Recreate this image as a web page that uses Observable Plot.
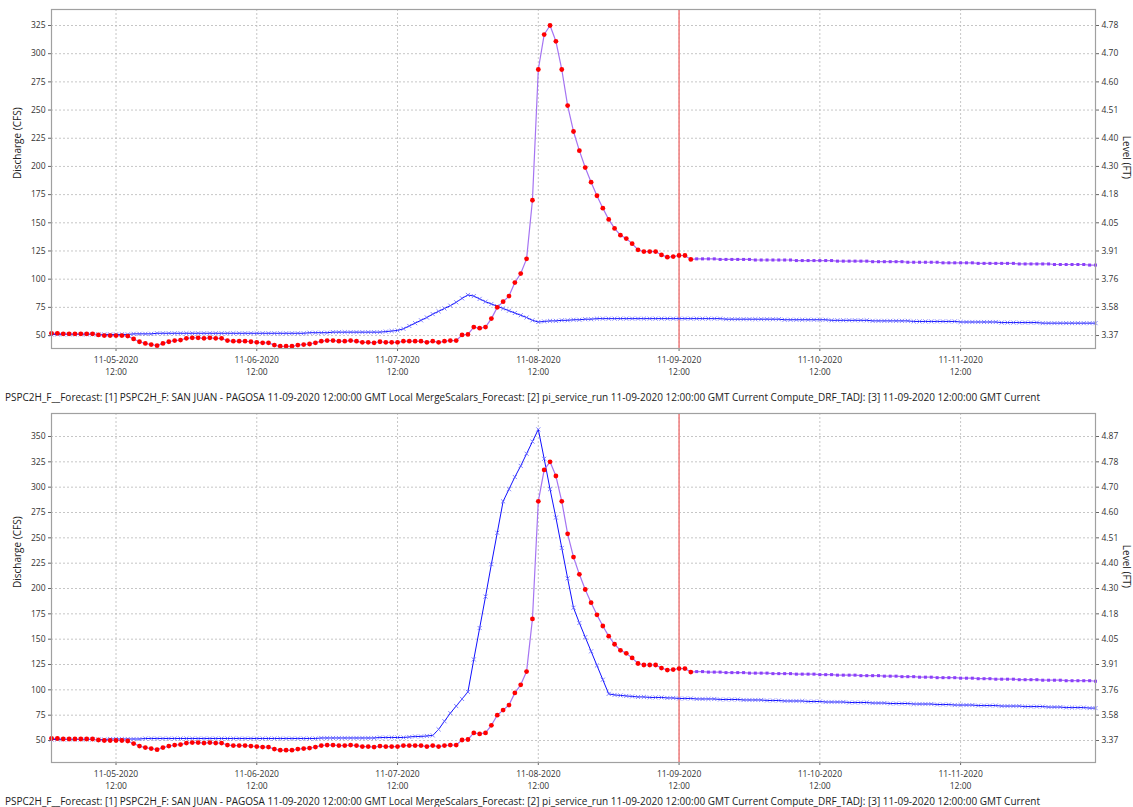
<!DOCTYPE html>
<html>
<head>
<meta charset="utf-8">
<script src="https://cdn.jsdelivr.net/npm/d3@7"></script>
<script src="https://cdn.jsdelivr.net/npm/@observablehq/plot@0.6"></script>
<style>
  html, body { margin: 0; padding: 0; background: #fff; }
  #page { position: relative; width: 1133px; height: 807px; overflow: hidden; background: #fff; }
  .panel { position: absolute; left: 0; }
  .footer { position: absolute; left: 5px; font-family: "Open Sans", sans-serif; font-size: 10px; line-height: 12px; color: #222; white-space: nowrap; }
  #title { position: absolute; left: 0; top: 0; }
</style>
</head>
<body>
<div id="page">
  <svg id="title" width="1133" height="20"></svg>
  <div class="panel" id="p1" style="top:0px"></div>
  <div class="footer" id="f1" style="top:391px"></div>
  <div class="panel" id="p2" style="top:404px"></div>
  <div class="footer" id="f2" style="top:795px"></div>
</div>
<script>
// ---------------- data ----------------
const titleText = "San Juan River at Pagosa Springs, Colorado (PSPC2H)";
const footerText = "PSPC2H_F__Forecast: [1] PSPC2H_F: SAN JUAN - PAGOSA 11-09-2020 12:00:00 GMT Local MergeScalars_Forecast: [2] pi_service_run 11-09-2020 12:00:00 GMT Current Compute_DRF_TADJ: [3] 11-09-2020 12:00:00 GMT Current";
const seriesStart = "2020-11-05T01:00:00Z";   // first hourly value
const seriesEnd = "2020-11-12T11:00:00Z";
const forecastTime = "2020-11-09T12:00:00Z";
const xTickTimes = ["2020-11-05T12:00:00Z","2020-11-06T12:00:00Z","2020-11-07T12:00:00Z","2020-11-08T12:00:00Z","2020-11-09T12:00:00Z","2020-11-10T12:00:00Z","2020-11-11T12:00:00Z"];

// observed discharge (CFS), hourly from 11-05 01:00 to 11-09 14:00
const observed = [
  52,52,51.5,51.5,51.5,51.5,51.5,51.5,
  50.5,50,50,50,50,49.5,
  47,44.5,43,42,41,43,44.5,45.5,
  46,47.5,48,48,47.5,48,47.5,47.5,
  45.5,45,45,45,44.5,44,43.5,43.5,
  41.5,40.5,40.5,40.5,41.5,42,42.5,43.5,
  45,45.5,45.5,45,45,45.5,45,44,
  44,43.5,44.5,44,44,44,45,45,
  45,45,44,45,44,45,45.5,45.5,
  50.5,51,57.5,56.5,57.5,65,75,80,
  85,97,105,118,170,286,317,325,
  311,286,254,231,214,199,186,174,
  163,153,145,139,136,131.5,126,124.5,
  124.5,124.5,121.5,119.5,120,121,121,117.5
];
// merged forecast (CFS), hourly from 11-09 15:00 to 11-12 11:00
const forecastTop = [
  118,118,118,118,117.5,117.5,117.5,117.5,117.5,117.5,
  117,117,117,117,117,117,117,116.5,116.5,116.5,
  116.5,116.5,116.5,116.5,116,116,116,116,116,116,
  115.5,115.5,115.5,115.5,115.5,115.5,115,115,115,115,
  115,115,114.5,114.5,114.5,114.5,114.5,114.5,114,114,
  114,114,114,114,114,113.5,113.5,113.5,113.5,113.5,
  113.5,113,113,113,113,113,113,112.5,112.5
];
const forecastBottom = [
  118,118,117.5,117.5,117.5,117,117,117,117,116.5,
  116.5,116.5,116.5,116,116,116,116,115.5,115.5,115.5,
  115.5,115,115,115,114.5,114.5,114.5,114.5,114,114,
  114,114,113.5,113.5,113.5,113,113,113,112.5,112.5,
  112.5,112,112,112,112,111.5,111.5,111.5,111,111,
  111,110.5,110.5,110.5,110.5,110,110,110,110,109.5,
  109.5,109.5,109.5,109,109,109,109,109,108.5
];
// simulated discharge (CFS), hourly from 11-05 01:00 to 11-12 11:00
const simTop = [
  51,51,51,51,51,51,51,51,51,51,
  51,51,51,51,51.5,51.5,51.5,51.5,52,52,
  52,52,52,52,52,52,52,52,52,52,
  52,52,52,52,52,52,52,52,52,52,
  52,52,52,52,52.5,52.5,52.5,52.5,53,53,
  53,53,53,53,53,53,53,53.5,54,54.5,
  56,58.5,61,63.5,66,69,71.5,74,76.5,79.5,
  83,86,85,82.5,80,78,76,74,72,70,
  68,66,63.5,62,62.5,63,63,63.5,63.5,64,
  64,64.5,64.5,65,65,65,65,65,65,65,
  65,65,65,65,65,65,65,65,65,65,
  65,65,65,65,65,64.5,64.5,64.5,64.5,64.5,
  64.5,64.5,64.5,64.5,64.5,64,64,64,64,64,
  64,64,64,63.5,63.5,63.5,63.5,63.5,63.5,63.5,
  63,63,63,63,63,63,63,62.5,62.5,62.5,
  62.5,62.5,62.5,62.5,62.5,62,62,62,62,62,
  62,62,61.5,61.5,61.5,61.5,61.5,61.5,61.5,61,
  61,61,61,61,61,61,61,61,61
];
const simBottom = [
  51,51,51,51,51,51,51,51,51,51,
  51.5,51.5,51.5,51.5,51.5,51.5,52,52,52,52,
  52,52,52,52,52,52,52,52,52,52,
  52,52,52,52,52,52,52,52,52,52,
  52,52,52,52,52,52,52.5,52.5,52.5,52.5,
  52.5,52.5,52.5,52.5,52.5,52.5,53,53,53,53,
  53,53.5,54,54,54.5,55,61,69,77,84,
  91,98,130,161,192,224,255,286,298,310,
  321,333,345,357,328,298,270,240,210,181,
  166,152,138,124,110,96,95,94.5,94,93.5,
  93,93,92.5,92.5,92.5,92,92,91.5,91.5,91.5,
  91,91,91,91,90.5,90.5,90.5,90.5,90,90,
  90,90,89.5,89.5,89.5,89,89,89,89,88.5,
  88.5,88.5,88,88,88,88,87.5,87.5,87.5,87.5,
  87,87,87,86.5,86.5,86.5,86.5,86,86,86,
  86,85.5,85.5,85.5,85,85,85,85,84.5,84.5,
  84.5,84.5,84,84,84,84,83.5,83.5,83.5,83.5,
  83,83,83,82.5,82.5,82.5,82.5,82,82
];
// axis ticks: discharge (left) and matching stage labels (right)
const dischargeTicksTop = [50,75,100,125,150,175,200,225,250,275,300,325];
const stageLabelsTop = ["3.37","3.58","3.76","3.91","4.05","4.18","4.30","4.40","4.51","4.60","4.70","4.78"];
const dischargeTicksBottom = [50,75,100,125,150,175,200,225,250,275,300,325,350];
const stageLabelsBottom = ["3.37","3.58","3.76","3.91","4.05","4.18","4.30","4.40","4.51","4.60","4.70","4.78","4.87"];

// ---------------- build ----------------
const t0 = new Date(seriesStart).getTime();
const hourly = (arr, offset) => arr.map((v, i) => ({t: new Date(t0 + (i + offset) * 3600e3), v}));
const obsData = hourly(observed, 0);
const xTicks = xTickTimes.map(s => new Date(s));
const fmtDate = d3.utcFormat("%m-%d-%Y"), fmtHour = d3.utcFormat("%H:%M");

function panel(sim, fc, yDomain, yTicks, stageLabels, marginBottom) {
  const fcData = hourly(fc, observed.length);
  const simData = hourly(sim, 0);
  const purple = obsData.concat(fcData);
  const stageOf = new Map(yTicks.map((d, i) => [d, stageLabels[i]]));
  const grid = {stroke: "#b8b8b8", strokeOpacity: 1, strokeDasharray: "2,2", strokeWidth: 0.8};
  return Plot.plot({
    width: 1133, height: 390,
    marginLeft: 51, marginRight: 38, marginTop: 9, marginBottom,
    style: {fontFamily: "'Open Sans', sans-serif", fontSize: "8.5px", color: "#333", background: "#fff", overflow: "visible"},
    x: {type: "utc", domain: [new Date(seriesStart), new Date(seriesEnd)]},
    y: {domain: yDomain},
    marks: [
      Plot.gridX(xTicks, grid),
      Plot.gridY(yTicks, grid),
      Plot.axisY(yTicks, {anchor: "left", tickSize: 3, tickPadding: 3, label: null, stroke: "#666"}),
      Plot.axisY(yTicks, {anchor: "right", tickSize: 3, tickPadding: 3, label: null, tickFormat: d => stageOf.get(d), stroke: "#666"}),
      Plot.axisX(xTicks, {tickSize: 3, tickPadding: 2, label: null, lineHeight: 1.5, tickFormat: d => fmtDate(d) + "\n" + fmtHour(d), stroke: "#666"}),
      Plot.text(["Discharge (CFS)"], {text: d => d, frameAnchor: "left", rotate: -90, dx: -34, fontSize: 10, fill: "#222"}),
      Plot.text(["Level (FT)"], {text: d => d, frameAnchor: "right", rotate: 90, dx: 31, fontSize: 10, fill: "#222"}),
      Plot.ruleX([new Date(forecastTime)], {stroke: "#f07c7c", strokeWidth: 1.5}),
      Plot.line(simData, {x: "t", y: "v", stroke: "#1010ff", strokeWidth: 1}),
      Plot.dot(simData, {x: "t", y: "v", symbol: "times", r: 2, stroke: "#6262ff", strokeWidth: 0.8}),
      Plot.line(purple, {x: "t", y: "v", stroke: "#a574f2", strokeWidth: 1.2}),
      Plot.dot(obsData, {x: "t", y: "v", r: 2.4, fill: "#ff0000"}),
      Plot.dot(fcData, {x: "t", y: "v", symbol: "square", r: 1.7, fill: "#8c3ffa"}),
      Plot.frame({stroke: "#a0a0a0", strokeWidth: 1.2})
    ]
  });
}

document.getElementById("p1").appendChild(panel(simTop, forecastTop, [38.5, 339.2], dischargeTicksTop, stageLabelsTop, 42));
document.getElementById("p2").appendChild(panel(simBottom, forecastBottom, [28.3, 372.7], dischargeTicksBottom, stageLabelsBottom, 32));
document.getElementById("f1").textContent = footerText;
document.getElementById("f2").textContent = footerText;

// title: only its descenders show at the top edge of the picture
const svgT = d3.select("#title");
const tt = svgT.append("text").attr("y", -3).attr("font-family", "'Liberation Serif', serif").attr("font-size", 33).attr("fill", "#000").text(titleText);
const node = tt.node();
const pre = node.getSubStringLength(0, titleText.indexOf("Pagosa") + 2);
const gw = node.getSubStringLength(titleText.indexOf("Pagosa") + 2, 1);
tt.attr("x", 491 - pre - gw / 2);
</script>
</body>
</html>
